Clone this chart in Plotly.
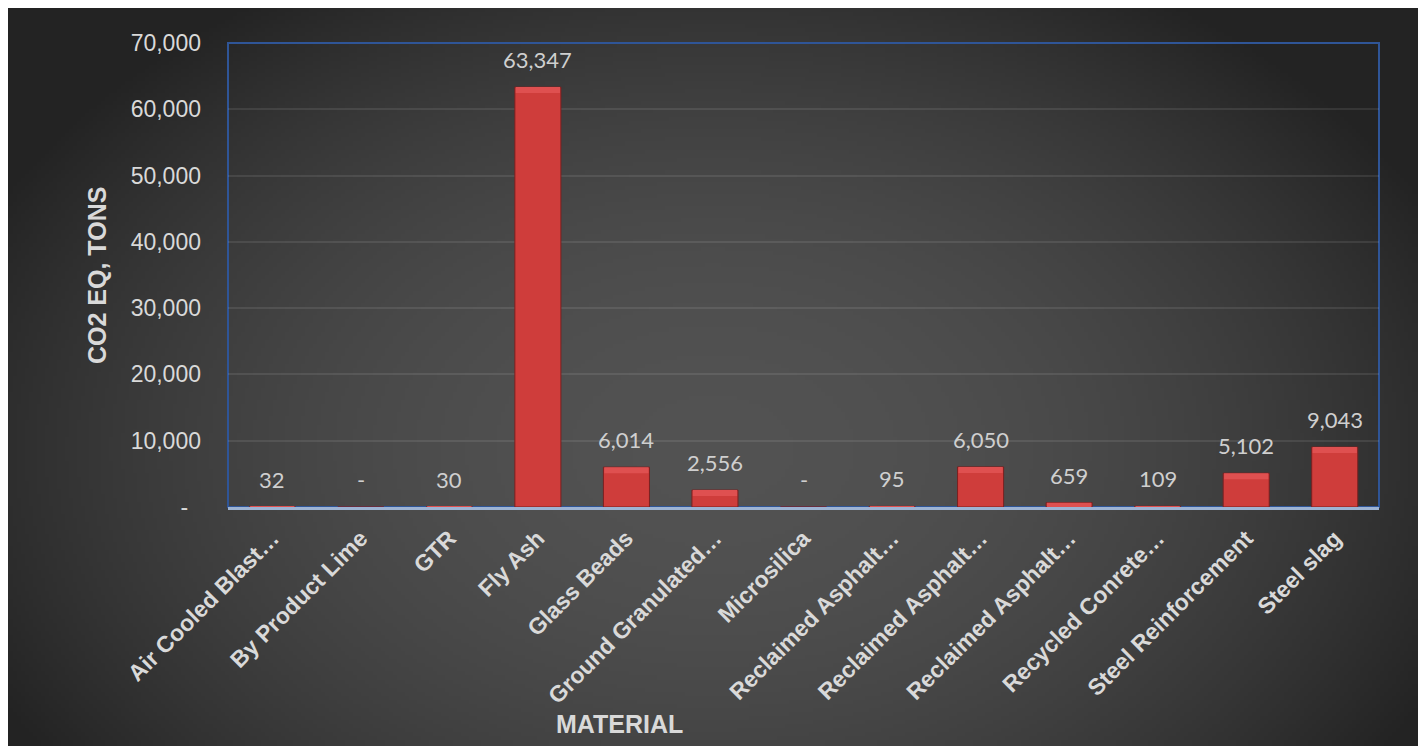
import base64
import struct
import zlib
import plotly.graph_objects as go

# ---------------- data ----------------
materials = [
    "Air Cooled Blast…", "By Product Lime", "GTR", "Fly Ash", "Glass Beads",
    "Ground Granulated…", "Microsilica", "Reclaimed Asphalt…", "Reclaimed Asphalt…",
    "Reclaimed Asphalt…", "Recycled Conrete…", "Steel Reinforcement", "Steel slag",
]
co2_tons = [32, 0, 30, 63347, 6014, 2556, 0, 95, 6050, 659, 109, 5102, 9043]
y_tick_vals = [0, 10000, 20000, 30000, 40000, 50000, 60000, 70000]
y_tick_text = ["-\u00a0\u00a0", "10,000", "20,000", "30,000", "40,000", "50,000", "60,000", "70,000"]

# ---------------- layout geometry (window pixels; page body adds 8px offset) ----------------
OFF = 8
W, H = 1427, 746
PL, PT, PR, PB = 228 - OFF, 43 - OFF, 1379 - OFF, 507 - OFF
pw, ph = PR - PL, PB - PT


def px_x(px):
    return (px - OFF - PL) / pw


def px_y(py):
    return (PB - (py - OFF)) / ph


# ---------------- radial gradient background (PNG data URI) ----------------
def make_gradient_png(w, h):
    cx, cy, rx, ry = 0.50, 0.60, 0.57, 0.74
    rows = []
    for j in range(h):
        row = bytearray([0])
        fy = (j + 0.5) / h
        for i in range(w):
            fx = (i + 0.5) / w
            d2 = ((fx - cx) / rx) ** 2 + ((fy - cy) / ry) ** 2
            t = max(0.0, 1.0 - d2)
            v = int(round(0x23 + (0x52 - 0x23) * t))
            row.append(v)
        rows.append(bytes(row))
    raw = b"".join(rows)

    def chunk(tag, data):
        c = struct.pack(">I", len(data)) + tag + data
        return c + struct.pack(">I", zlib.crc32(tag + data) & 0xFFFFFFFF)

    png = b"\x89PNG\r\n\x1a\n"
    png += chunk(b"IHDR", struct.pack(">IIBBBBB", w, h, 8, 0, 0, 0, 0))
    png += chunk(b"IDAT", zlib.compress(raw, 9))
    png += chunk(b"IEND", b"")
    return "data:image/png;base64," + base64.b64encode(png).decode()


bg_uri = make_gradient_png(353, 183)

x_idx = list(range(len(materials)))
bevel = 70000 / ph * 6  # ~6 px highlight at the top of each bar
bevel_h = [min(v, bevel) for v in co2_tons]
bevel_base = [v - b for v, b in zip(co2_tons, bevel_h)]

fig = go.Figure()
fig.add_trace(go.Bar(
    x=x_idx,
    y=co2_tons,
    marker=dict(color="#cf3d3b", line=dict(color="#7a2020", width=1)),
    hoverinfo="x+y",
    showlegend=False,
))
fig.add_trace(go.Bar(
    x=x_idx,
    y=bevel_h,
    base=bevel_base,
    width=0.5,
    marker=dict(color="#df5050", line=dict(width=0)),
    hoverinfo="skip",
    showlegend=False,
))

annotations = []
for xi, v in zip(x_idx, co2_tons):
    annotations.append(dict(
        x=xi, y=v, xref="x", yref="y",
        text=(f"{v:,}" if v else "-"),
        showarrow=False, yanchor="bottom", yshift=12,
        font=dict(family="Lato, Open Sans, sans-serif", size=22, color="#cfcfcf"),
    ))

annotations.append(dict(
    x=px_x(619), y=px_y(724), xref="paper", yref="paper",
    text="<b>MATERIAL</b>", showarrow=False, xanchor="center", yanchor="middle",
    font=dict(family="Liberation Sans, Arial, sans-serif", size=25, color="#d9d9d9"),
))
annotations.append(dict(
    x=px_x(97), y=px_y(276), xref="paper", yref="paper",
    text="<b>CO2 EQ, TONS</b>", showarrow=False, textangle=-90,
    xanchor="center", yanchor="middle",
    font=dict(family="Liberation Sans, Arial, sans-serif", size=25, color="#d9d9d9"),
))

fig.update_layout(
    width=W, height=H,
    margin=dict(l=PL, r=W - PR, t=PT, b=H - PB, pad=0),
    paper_bgcolor="white",
    plot_bgcolor="rgba(0,0,0,0)",
    barmode="overlay",
    bargap=0.48,
    images=[dict(
        source=bg_uri, xref="paper", yref="paper",
        x=px_x(7), y=px_y(6), sizex=(1418 - 7) / pw, sizey=(746 - 6) / ph,
        xanchor="left", yanchor="top", sizing="stretch", layer="below",
    )],
    shapes=[dict(
        type="rect", xref="paper", yref="paper", x0=0, y0=0, x1=1, y1=1,
        line=dict(color="#2f5597", width=2), layer="below",
    )],
    annotations=annotations,
    xaxis=dict(
        range=[-0.5, len(materials) - 0.5],
        tickmode="array", tickvals=x_idx, ticktext=materials,
        tickangle=-45,
        tickfont=dict(family="Liberation Sans, Arial, sans-serif", size=23,
                      color="#d9d9d9", weight="bold"),
        showgrid=False, zeroline=False,
        showline=True, linecolor="#9db3d3", linewidth=2.5,
        ticks="", ticklabelstandoff=6,
    ),
    yaxis=dict(
        range=[0, 70000],
        tickmode="array", tickvals=y_tick_vals, ticktext=y_tick_text,
        tickfont=dict(family="Liberation Sans, Arial, sans-serif", size=23, color="#d9d9d9"),
        showgrid=True, gridcolor="rgba(255,255,255,0.09)", gridwidth=1.5,
        zeroline=False, showline=False, ticks="", ticklabelstandoff=26,
    ),
)

fig.write_html("out.html")
